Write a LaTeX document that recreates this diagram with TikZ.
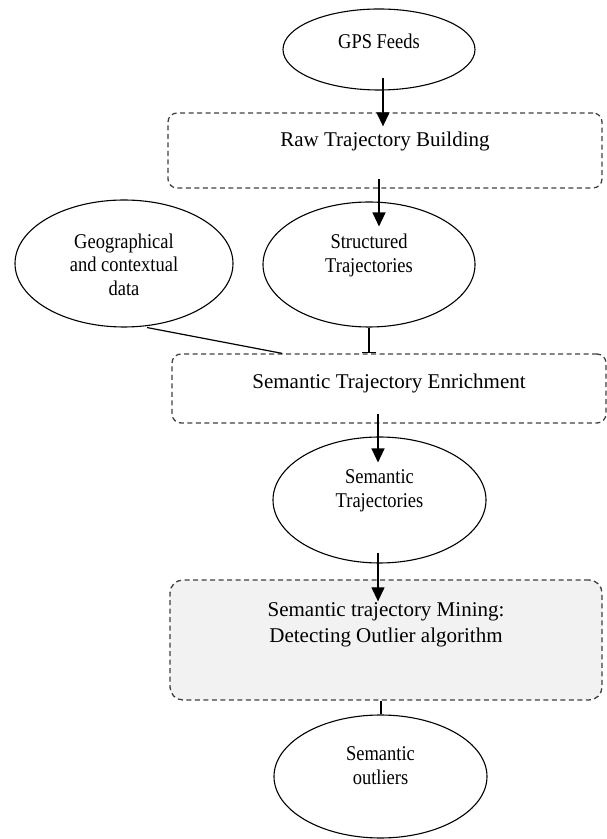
\documentclass[tikz,border=0pt]{standalone}
\usepackage{fontspec}
\setmainfont{Liberation Serif}
\newfontfamily\ellfont[FakeStretch=0.88]{Liberation Serif}
\usetikzlibrary{arrows.meta,shapes.geometric}
\newcommand{\txtstack}[1]{\begin{tabular}[t]{@{}c@{}}#1\end{tabular}}
\definecolor{dashgray}{HTML}{404040}
\definecolor{minefill}{HTML}{F2F2F2}
\begin{document}
\begin{tikzpicture}[x=1pt,y=1pt,
  ell/.style={ellipse, draw, line width=1.1pt, inner sep=0pt, text height=15pt,
    font=\ellfont\fontsize{21}{23.5}\selectfont},
  stepbox/.style={rectangle, draw=dashgray, dash pattern=on 5pt off 3.5pt, line width=1.3pt,
    rounded corners=9pt, inner sep=0pt, text height=15pt,
    font=\fontsize{21}{26}\selectfont},
  arr/.style={line width=1.2pt, -{Triangle[length=14pt,width=13pt]}},
  conn/.style={line width=1.2pt}
]
\useasboundingbox (0,0) rectangle (607,839);

\node[ell, minimum width=192pt, minimum height=81pt, text depth=17pt] (gps) at (379,789.5) {\txtstack{GPS Feeds}};
\node[stepbox, minimum width=434pt, minimum height=75pt, text depth=22pt] (raw) at (385,688.5) {\txtstack{Raw Trajectory Building}};
\node[ell, minimum width=218pt, minimum height=127pt, text depth=45.4pt] (geo) at (124,575.5) {\txtstack{Geographical\\and contextual\\data}};
\node[ell, minimum width=212pt, minimum height=125pt, text depth=46pt] (struct) at (369,574.5) {\txtstack{Structured\\Trajectories}};
\node[stepbox, minimum width=434pt, minimum height=69pt, text depth=14pt] (enrich) at (389,450.5) {\txtstack{Semantic Trajectory Enrichment}};
\node[ell, minimum width=213pt, minimum height=126pt, text depth=47pt] (semtraj) at (379.5,339) {\txtstack{Semantic\\Trajectories}};
\node[stepbox, fill=minefill, rounded corners=13pt, minimum width=432pt, minimum height=120pt, text depth=61pt] (mine) at (386,199) {\txtstack{Semantic trajectory Mining:\\Detecting Outlier algorithm}};
\node[ell, minimum width=213pt, minimum height=123pt, text depth=46.6pt] (outl) at (380.5,62.5) {\txtstack{Semantic\\outliers}};

\draw[arr] ([xshift=4pt,yshift=13pt]gps.south) -- ([xshift=-2pt,yshift=-14pt]raw.north);
\draw[arr] ([xshift=-6pt,yshift=10pt]raw.south) -- ([xshift=10pt,yshift=-25pt]struct.north);
\draw[conn, -{Bar[width=14pt]}] (struct.south) -- ([xshift=-20pt]enrich.north);
\draw[conn] ([xshift=23pt]geo.south) -- ([xshift=-107pt]enrich.north);
\draw[arr] ([xshift=-11pt,yshift=10pt]enrich.south) -- ([xshift=-1.5pt,yshift=-26pt]semtraj.north);
\draw[arr] ([xshift=-1.5pt,yshift=11pt]semtraj.south) -- ([xshift=-8pt,yshift=-22pt]mine.north);
\draw[conn] ([xshift=-5pt]mine.south) -- ([xshift=0.5pt]outl.north);
\end{tikzpicture}
\end{document}
